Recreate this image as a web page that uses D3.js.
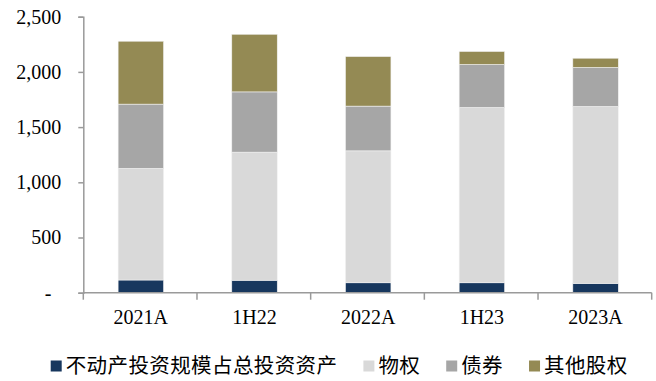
<!DOCTYPE html>
<html>
<head>
<meta charset="utf-8">
<script src="https://cdn.jsdelivr.net/npm/d3@7/dist/d3.min.js"></script>
<style>
  html, body { margin: 0; padding: 0; background: #fff; }
  svg { display: block; }
</style>
</head>
<body>
<svg id="chart" width="656" height="381"></svg>
<script>
// Periods on the category axis
const categories = ["2021A", "1H22", "2022A", "1H23", "2023A"];

// Series (stacked from bottom to top)
const seriesNames = ["不动产投资规模占总投资资产", "物权", "债券", "其他股权"];
const realEstate = [115, 113, 90, 90, 85];
const propertyRights = [1011, 1160, 1195, 1588, 1602];
const bonds = [582, 546, 405, 389, 353];
const otherEquity = [570, 522, 449, 118, 84];

// Y axis ticks
const yTicks = [0, 500, 1000, 1500, 2000, 2500];

const colors = ["#17375E", "#D9D9D9", "#A6A6A6", "#948A54"];

const svg = d3.select("#chart");
const margin = { left: 83.3, right: 4.3, top: 16.7, bottom: 88.3 };
const W = 656, H = 381;

const rows = categories.map((c, i) => ({
  cat: c,
  s0: realEstate[i], s1: propertyRights[i], s2: bonds[i], s3: otherEquity[i]
}));
const keys = ["s0", "s1", "s2", "s3"];
const stacked = d3.stack().keys(keys)(rows);

const x = d3.scaleBand().domain(categories)
  .range([margin.left, W - margin.right]).padding(0);
const y = d3.scaleLinear().domain([0, 2500])
  .range([H - margin.bottom, margin.top]);

const barW = x.bandwidth() * 0.4;

// Bars
svg.append("g").selectAll("g")
  .data(stacked).join("g")
  .attr("fill", (d, i) => colors[i])
  .selectAll("rect")
  .data(d => d).join("rect")
  .attr("x", d => x(d.data.cat) + x.bandwidth() / 2 - barW / 2 + 0.7)
  .attr("width", barW)
  .attr("y", d => y(d[1]))
  .attr("height", d => y(d[0]) - y(d[1]))
  .attr("stroke", "#f2f2f2")
  .attr("stroke-width", 0.6);

const axisColor = "#9a9a9a";
const fontSerif = "'Liberation Serif', 'Times New Roman', serif";

// Y axis
const yAxis = svg.append("g")
  .attr("transform", `translate(${margin.left},0)`)
  .call(d3.axisLeft(y).tickValues(yTicks).tickSize(5).tickPadding(17)
    .tickFormat(d => d === 0 ? "-" : d3.format(",")(d)));
yAxis.select(".domain").attr("stroke", axisColor).attr("stroke-width", 1.5);
yAxis.selectAll(".tick line").attr("stroke", axisColor).attr("stroke-width", 1.5);
yAxis.selectAll(".tick text")
  .attr("fill", "#000")
  .style("font-family", fontSerif)
  .style("font-size", "20px")
  .attr("dx", d => d === 0 ? -10 : 0);

// X axis with ticks at category boundaries
const xAxisG = svg.append("g")
  .attr("transform", `translate(0,${y(0)})`);
xAxisG.append("line")
  .attr("x1", margin.left).attr("x2", W - margin.right)
  .attr("stroke", axisColor).attr("stroke-width", 1.5);
const bounds = categories.map(c => x(c)).concat([x(categories[categories.length - 1]) + x.bandwidth()]);
xAxisG.selectAll("line.tk").data(bounds).join("line")
  .attr("class", "tk")
  .attr("x1", d => d).attr("x2", d => d)
  .attr("y1", 0).attr("y2", 7)
  .attr("stroke", axisColor).attr("stroke-width", 1.5);
xAxisG.selectAll("text").data(categories).join("text")
  .attr("x", d => x(d) + x.bandwidth() / 2 + 0.7)
  .attr("y", 31.5)
  .attr("text-anchor", "middle")
  .attr("fill", "#000")
  .style("font-family", fontSerif)
  .style("font-size", "20px")
  .text(d => d);

// Legend
const legend = svg.append("g").attr("transform", "translate(50.7,366)");
let lx = 0;
seriesNames.forEach((name, i) => {
  const g = legend.append("g").attr("transform", `translate(${lx},0)`);
  g.append("rect").attr("x", 0).attr("y", -5.5).attr("width", 11).attr("height", 11)
    .attr("fill", colors[i]);
  const t = g.append("text")
    .attr("x", 15)
    .attr("y", 0)
    .attr("dy", "0.36em")
    .attr("fill", "#000")
    .style("font-family", "'Noto Sans CJK SC', sans-serif")
    .style("font-size", "20.5px")
    .style("letter-spacing", "0.4px")
    .text(name);
  lx += 15 + t.node().getComputedTextLength() + 26;
});
</script>
</body>
</html>
